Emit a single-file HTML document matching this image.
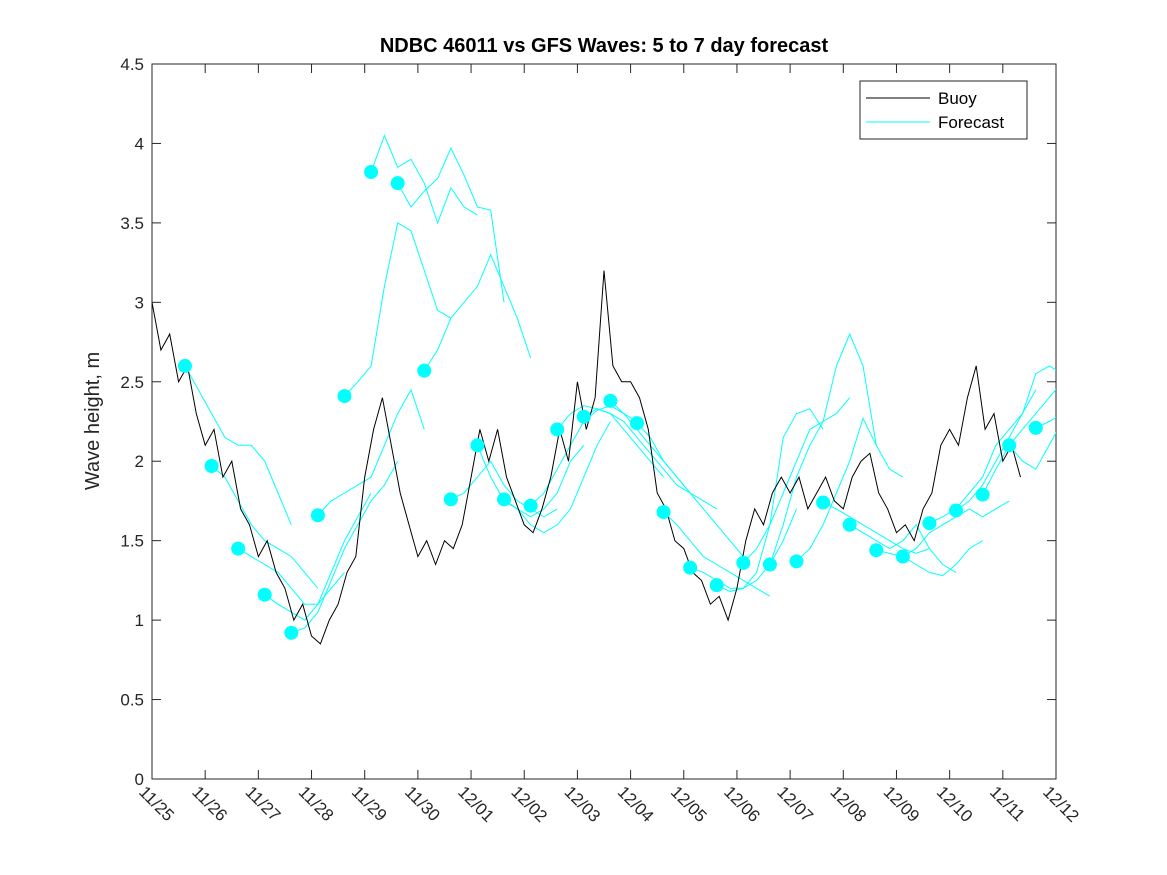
<!DOCTYPE html>
<html><head><meta charset="utf-8"><style>
body{margin:0;background:#fff;}
svg{display:block;font-family:"Liberation Sans","DejaVu Sans",sans-serif;}
</style></head><body>
<svg id="chart" width="1167" height="875" viewBox="0 0 1167 875">
<rect width="1167" height="875" fill="#fff"/>
<defs><clipPath id="clip"><rect x="152" y="64" width="904" height="715"/></clipPath></defs>
<text x="604" y="52" text-anchor="middle" font-size="20" font-weight="bold" fill="#000">NDBC 46011 vs GFS Waves: 5 to 7 day forecast</text>
<text transform="translate(99,421) rotate(-90)" text-anchor="middle" font-size="20" fill="#262626">Wave height, m</text>
<g id="axes"></g>
<g id="series" clip-path="url(#clip)"></g>
<g>
<rect x="860" y="81" width="167" height="58" fill="#fff" stroke="#262626" stroke-width="1"/>
<line x1="866" y1="98" x2="930" y2="98" stroke="#000" stroke-width="1"/>
<text x="938" y="104" font-size="17" fill="#000">Buoy</text>
<line x1="866" y1="122" x2="930" y2="122" stroke="#00ffff" stroke-width="1"/>
<text x="938" y="128" font-size="17" fill="#000">Forecast</text>
</g>
</svg>
<script>
const xTickLabels=["11/25","11/26","11/27","11/28","11/29","11/30","12/01","12/02","12/03","12/04","12/05","12/06","12/07","12/08","12/09","12/10","12/11","12/12"];
const yTicks=[0,0.5,1,1.5,2,2.5,3,3.5,4,4.5];
const buoyStep=1/6;
const buoyValues=[3.0,2.7,2.8,2.5,2.6,2.3, 2.1,2.2,1.9,2.0,1.7,1.6, 1.4,1.5,1.3,1.2,1.0,1.1, 0.9,0.85,1.0,1.1,1.3,1.4,
1.9,2.2,2.4,2.1,1.8,1.6, 1.4,1.5,1.35,1.5,1.45,1.6, 1.9,2.2,2.0,2.2,1.9,1.75, 1.6,1.55,1.7,1.9,2.2,2.0,
2.5,2.2,2.4,3.2,2.6,2.5, 2.5,2.4,2.2,1.8,1.7,1.5, 1.45,1.3,1.25,1.1,1.15,1.0, 1.2,1.5,1.7,1.6,1.8,1.9,
1.8,1.9,1.7,1.8,1.9,1.75, 1.7,1.9,2.0,2.05,1.8,1.7, 1.55,1.6,1.5,1.7,1.8,2.1, 2.2,2.1,2.4,2.6,2.2,2.3, 2.0,2.1,1.9];
const forecastStart=0.62, forecastGap=0.5, forecastStep=0.25;
const forecastValues=[
[2.6,2.45,2.3,2.15,2.1,2.1,2.0,1.8,1.6],
[1.97,1.9,1.75,1.6,1.5,1.45,1.4,1.3,1.2],
[1.45,1.4,1.35,1.3,1.2,1.1,1.1,1.2,1.3],
[1.16,1.1,1.05,1.0,1.1,1.3,1.5,1.65,1.8],
[0.92,0.95,1.05,1.25,1.45,1.6,1.75,1.85,2.0],
[1.66,1.75,1.8,1.85,1.9,2.1,2.3,2.45,2.2],
[2.41,2.5,2.6,3.1,3.5,3.45,3.2,2.95,2.9],
[3.82,4.05,3.85,3.9,3.75,3.5,3.72,3.6,3.55],
[3.75,3.6,3.7,3.78,3.97,3.8,3.6,3.58,3.0],
[2.57,2.7,2.9,3.0,3.1,3.3,3.1,2.9,2.65],
[1.76,1.8,1.9,2.0,1.85,1.75,1.7,1.65,1.7],
[2.1,1.9,1.75,1.7,1.65,1.7,1.8,2.0,2.1],
[1.76,1.7,1.6,1.55,1.6,1.7,1.9,2.1,2.25],
[1.72,1.8,1.95,2.1,2.25,2.32,2.35,2.3,2.25],
[2.2,2.3,2.35,2.33,2.3,2.2,2.1,2.0,1.9],
[2.28,2.33,2.3,2.25,2.15,2.05,1.95,1.85,1.8],
[2.38,2.3,2.2,2.1,2.0,1.9,1.8,1.75,1.7],
[2.24,2.15,2.0,1.9,1.8,1.7,1.6,1.5,1.4],
[1.68,1.6,1.5,1.4,1.35,1.3,1.25,1.2,1.15],
[1.33,1.3,1.25,1.2,1.2,1.25,1.35,1.5,1.7],
[1.22,1.18,1.2,1.3,1.6,2.15,2.3,2.33,2.2],
[1.36,1.45,1.6,1.8,2.0,2.2,2.25,2.3,2.4],
[1.35,1.6,1.9,2.1,2.25,2.6,2.8,2.6,2.1],
[1.37,1.45,1.6,1.8,2.0,2.27,2.1,1.95,1.9],
[1.74,1.7,1.65,1.6,1.55,1.5,1.45,1.42,1.45],
[1.6,1.55,1.5,1.45,1.5,1.6,1.45,1.35,1.3],
[1.44,1.42,1.4,1.35,1.3,1.28,1.35,1.45,1.5],
[1.4,1.45,1.55,1.6,1.65,1.7,1.65,1.7,1.75],
[1.61,1.65,1.7,1.8,1.9,2.1,2.2,2.3,2.45],
[1.69,1.75,1.85,2.0,2.15,2.3,2.55,2.6,2.55],
[1.79,1.95,2.1,2.2,2.3,2.4,2.5,2.55,2.5],
[2.1,2.0,1.95,2.1,2.25,2.3,2.35,2.4,2.5],
[2.21,2.25,2.3,2.32,2.35,2.4,2.45,2.5,2.5]];
const NS="http://www.w3.org/2000/svg";
const X0=152,X1=1056,Y0=779,Y1=64,DAYS=17,VMAX=4.5;
const xs=d=>X0+(X1-X0)*d/DAYS;
const ys=v=>Y0-(Y0-Y1)*v/VMAX;
function mk(tag,attrs,parent){const e=document.createElementNS(NS,tag);for(const k in attrs)e.setAttribute(k,attrs[k]);parent.appendChild(e);return e;}
const axes=document.getElementById('axes'),series=document.getElementById('series');
const frame=mk('rect',{x:X0,y:Y1,width:X1-X0,height:Y0-Y1,fill:'none',stroke:'#262626','stroke-width':1},axes);


yTicks.forEach(v=>{
 const y=ys(v);
 mk('line',{x1:X0,y1:y,x2:X0+9,y2:y,stroke:'#262626'},axes);
 mk('line',{x1:X1,y1:y,x2:X1-9,y2:y,stroke:'#262626'},axes);
 const t=mk('text',{x:X0-8,y:y+6,'text-anchor':'end','font-size':17,fill:'#262626'},axes);
 t.textContent=String(v);
 
 
});
xTickLabels.forEach((lab,i)=>{
 const x=xs(i);
 mk('line',{x1:x,y1:Y0,x2:x,y2:Y0-9,stroke:'#262626'},axes);
 mk('line',{x1:x,y1:Y1,x2:x,y2:Y1+9,stroke:'#262626'},axes);
 const t=mk('text',{transform:`translate(${x-14},${Y0+14}) rotate(45)`,'font-size':17,fill:'#262626'},axes);
 t.textContent=lab;
 
 
});
forecastValues.forEach((seg,i)=>{
 const d0=forecastStart+forecastGap*i;
 const pts=seg.map((v,j)=>xs(d0+forecastStep*j).toFixed(1)+','+ys(v).toFixed(1)).join(' ');
 const p=mk('polyline',{points:pts,fill:'none',stroke:'#00ffff','stroke-width':1},series);
 
 
});
const bp=buoyValues.map((v,i)=>xs(i*buoyStep).toFixed(1)+','+ys(v).toFixed(1)).join(' ');
const buoy=mk('polyline',{points:bp,fill:'none',stroke:'#000','stroke-width':1},series);


forecastValues.forEach((seg,i)=>{
 const c=mk('circle',{cx:xs(forecastStart+forecastGap*i),cy:ys(seg[0]),r:7,fill:'#00ffff'},series);
 
 
});
</script>
</body></html>
